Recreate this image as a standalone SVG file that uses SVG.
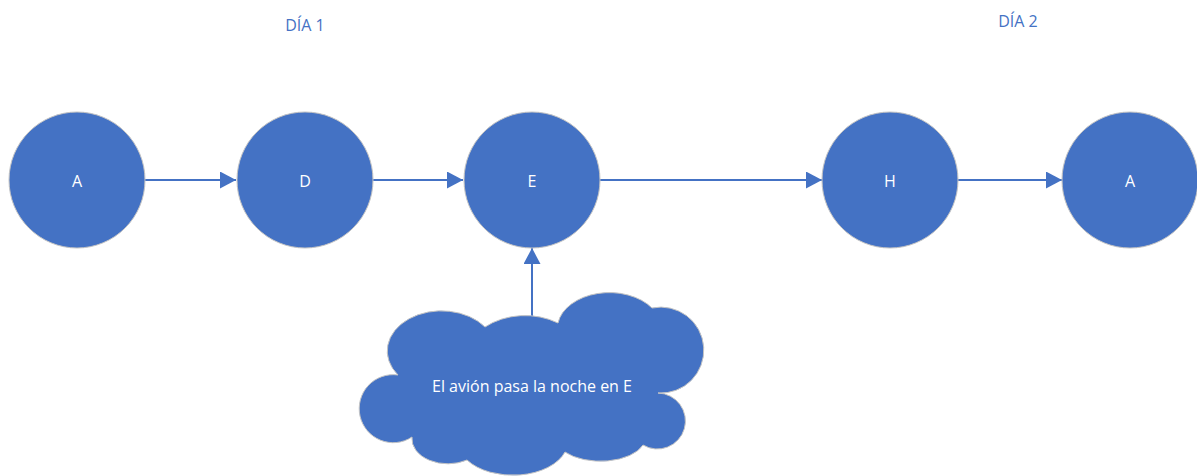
<svg xmlns="http://www.w3.org/2000/svg" width="1197" height="476" viewBox="0 0 1197 476">
  <defs>
    <style>
      .node { fill: #4472C4; stroke: #c4c4c4; stroke-width: 1; }
      .label { fill: #ffffff; font-family: "Open Sans", "Noto Sans", sans-serif; font-size: 16px; text-anchor: middle; }
      .day { fill: #4472C4; font-family: "Open Sans", "Noto Sans", sans-serif; font-size: 16px; text-anchor: middle; }
      .edge { stroke: #4472C4; stroke-width: 2; fill: none; marker-end: url(#arrow); }
    </style>
    <marker id="arrow" markerUnits="userSpaceOnUse" markerWidth="16" markerHeight="17" refX="16" refY="8.5" orient="auto">
      <path d="M0,0 L16,8.5 L0,17 Z" fill="#4472C4"/>
    </marker>
  </defs>

  <rect width="1197" height="476" fill="#ffffff"/>

  <text class="day" x="305" y="31">DÍA 1</text>
  <text class="day" x="1018" y="27">DÍA 2</text>

  <g id="connectors">
    <line class="edge" x1="145" y1="180" x2="236" y2="180"/>
    <line class="edge" x1="373" y1="180" x2="463" y2="180"/>
    <line class="edge" x1="600" y1="180" x2="822" y2="180"/>
    <line class="edge" x1="958" y1="180" x2="1062" y2="180"/>
    <line class="edge" x1="532" y1="316" x2="532" y2="248"/>
  </g>

  <g id="node-a1">
    <circle class="node" cx="77" cy="180" r="68"/>
    <text class="label" x="77" y="187">A</text>
  </g>
  <g id="node-d">
    <circle class="node" cx="305" cy="180" r="68"/>
    <text class="label" x="305" y="187">D</text>
  </g>
  <g id="node-e">
    <circle class="node" cx="532" cy="180" r="68"/>
    <text class="label" x="532" y="187">E</text>
  </g>
  <g id="node-h">
    <circle class="node" cx="890" cy="180" r="68"/>
    <text class="label" x="890" y="187">H</text>
  </g>
  <g id="node-a2">
    <circle class="node" cx="1130" cy="180" r="68"/>
    <text class="label" x="1130" y="187">A</text>
  </g>

  <g id="note-cloud">
    <path class="node" d="M398,375
      A 50 37 0 0 1 485,327
      A 60 45 0 0 1 558,323
      A 52 36 0 0 1 652,308
      A 43 43 0 1 1 658,393
      A 28 28 0 1 1 643,445
      A 45 24 0 0 1 565,452
      A 55 34 0 0 1 467,460
      A 36 25 0 0 1 412,437
      A 34 34 0 1 1 398,375 Z"/>
    <text class="label" x="532" y="392" font-size="16.5">El avión pasa la noche en E</text>
  </g>
</svg>
